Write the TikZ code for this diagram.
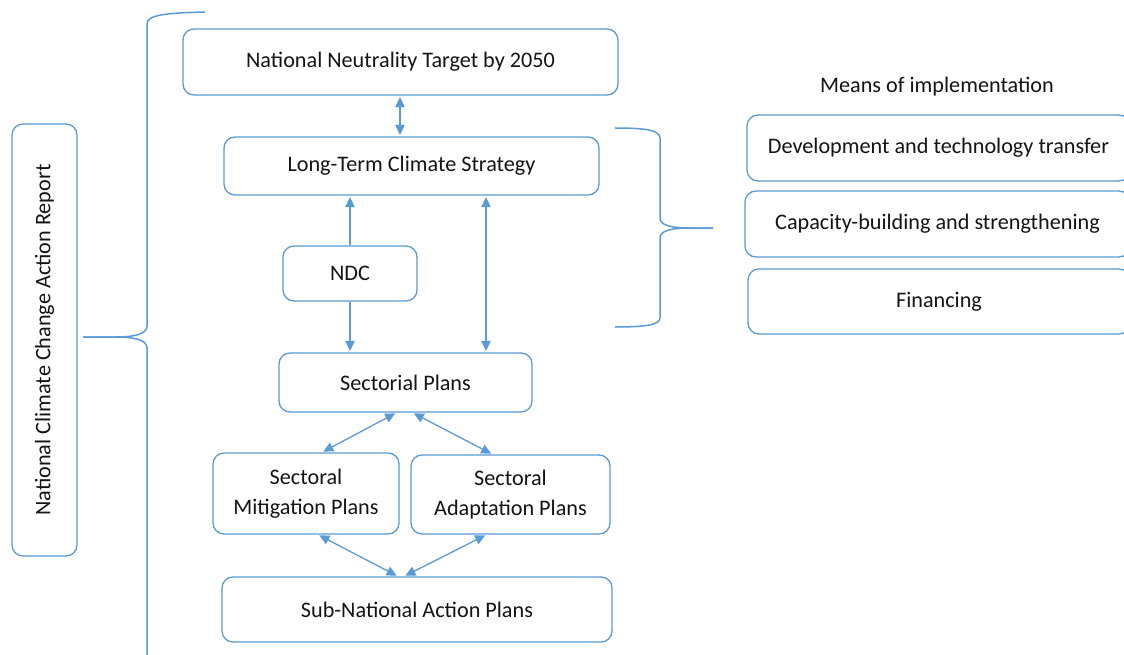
\documentclass[tikz,border=0pt]{standalone}
\usepackage{fontspec}
\setmainfont{Carlito}
\usetikzlibrary{arrows.meta,calc}
\definecolor{boxblue}{HTML}{5B9BD5}
\definecolor{txt}{HTML}{141414}
\begin{document}
\begin{tikzpicture}[x=1pt,y=-1pt,
  box/.style={draw=boxblue, line width=1.3pt, rounded corners=11pt, text=txt,
    font=\fontsize{22.2}{29.5}\selectfont, align=center, inner sep=0pt},
  conn/.style={draw=boxblue, line width=1.3pt,
    {Triangle[length=10pt,width=9.5pt]}-{Triangle[length=10pt,width=9.5pt]},
    shorten <=1.5pt, shorten >=1.5pt},
  oneway/.style={draw=boxblue, line width=1.3pt,
    -{Triangle[length=10pt,width=9.5pt]}, shorten >=1.5pt},
  bracestyle/.style={draw=boxblue, line width=1.5pt},
  lbl/.style={text=txt, font=\fontsize{22.2}{29.5}\selectfont}
]
\clip (0,0) rectangle (1124,655);
\fill[white] (0,0) rectangle (1124,655);

% main column
\node[box, minimum width=435pt, minimum height=66pt] (nnt) at (400.5,62) {National Neutrality Target by 2050};
\node[box, minimum width=375pt, minimum height=58pt] (ltcs) at (411.5,166) {Long-Term Climate Strategy};
\node[box, minimum width=134pt, minimum height=55pt] (ndc) at (350,273.5) {NDC};
\node[box, minimum width=253pt, minimum height=59pt] (sect) at (405.5,382.5) {Sectorial Plans};
\node[box, minimum width=186pt, minimum height=81pt] (mit) at (306,493.5) {Sectoral\\Mitigation Plans};
\node[box, minimum width=199pt, minimum height=79pt] (adapt) at (510.5,494.5) {Sectoral\\Adaptation Plans};
\node[box, minimum width=390pt, minimum height=65pt] (sub) at (417,609.5) {Sub-National Action Plans};

% left report box
\node[box, minimum width=65pt, minimum height=432pt] (report) at (44.5,340) {};
\node[lbl, rotate=90] (reporttext) at (report.center) {National Climate Change Action Report};

% right column
\node[lbl] (means) at (937,87) {Means of implementation};
\node[box, minimum width=383pt, minimum height=66pt] (dev) at (938.5,148) {Development and technology transfer};
\node[box, minimum width=385pt, minimum height=66pt] (cap) at (937.5,224) {Capacity-building and strengthening};
\node[box, minimum width=382pt, minimum height=65pt] (fin) at (939,301.5) {Financing};

% connectors
\draw[conn] ([xshift=-0.5pt]nnt.south) -- ([xshift=-0.5pt]nnt.south |- ltcs.north);
\draw[oneway] (ndc.north) -- (ndc.north |- ltcs.south);
\draw[oneway] (ndc.south) -- (ndc.south |- sect.north);
\draw[conn] ([xshift=74.5pt]ltcs.south) -- ([xshift=74.5pt]ltcs.south |- sect.north);
\draw[conn] ([xshift=-9pt]sect.south) -- ([xshift=16pt]mit.north);
\draw[conn] ([xshift=7pt]sect.south) -- ([xshift=-18pt]adapt.north);
\draw[conn] ([xshift=12pt]mit.south) -- ([xshift=-19pt]sub.north);
\draw[conn] ([xshift=-24pt]adapt.south) -- ([xshift=-13pt]sub.north);

% left brace
\coordinate (ltip) at (83,337);
\draw[bracestyle] (205,12) .. controls (165,13) and (147,15) .. (147,24)
  -- (147,326) .. controls (147,334) and (135,337) .. (115,337) -- (ltip);
\draw[bracestyle] (ltip) -- (115,337) .. controls (135,337) and (147,340) .. (147,348)
  -- (147,660);

% right brace
\coordinate (rtip) at (713,228);
\draw[bracestyle] (615,128) .. controls (645,128) and (660,130) .. (660,138)
  -- (660,218) .. controls (660,225) and (670,228) .. (690,228) -- (rtip);
\draw[bracestyle] (rtip) -- (690,228) .. controls (670,228) and (660,231) .. (660,238)
  -- (660,318) .. controls (660,325) and (645,327) .. (615,327);
\end{tikzpicture}
\end{document}
